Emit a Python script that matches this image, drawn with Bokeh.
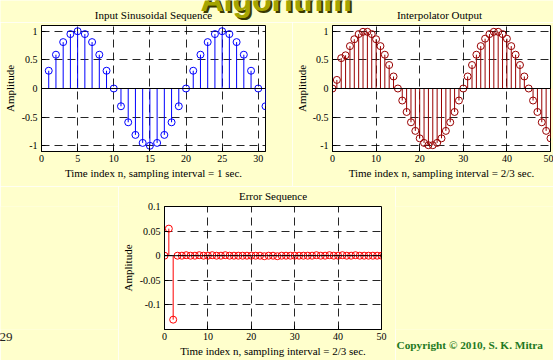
from bokeh.plotting import figure
from bokeh.layouts import row, column
from bokeh.models import FixedTicker, Span, LinearAxis
from bokeh.core.properties import value
from bokeh.embed import file_html
from bokeh.resources import INLINE

BG = "#FFFFCC"
SERIF = "Liberation Serif"

# ---------------- data ----------------
n_input = list(range(1, 32))
x_input = [0.31, 0.59, 0.81, 0.95, 1.0, 0.95, 0.81, 0.59, 0.31, 0.0,
           -0.31, -0.59, -0.81, -0.95, -1.0, -0.95, -0.81, -0.59, -0.31, 0.0,
           0.31, 0.59, 0.81, 0.95, 1.0, 0.95, 0.81, 0.59, 0.31, 0.0, -0.31]

n_interp = list(range(0, 51))
y_interp = [0.0, 0.15, 0.53, 0.58, 0.74, 0.86, 0.95, 0.99, 0.99, 0.95,
            0.86, 0.74, 0.59, 0.41, 0.21, 0.0, -0.21, -0.41, -0.59, -0.74,
            -0.87, -0.95, -0.99, -0.99, -0.95, -0.87, -0.74, -0.59, -0.41, -0.21,
            0.0, 0.21, 0.41, 0.59, 0.74, 0.87, 0.95, 0.99, 0.99, 0.95,
            0.87, 0.74, 0.59, 0.41, 0.21, 0.0, -0.21, -0.41, -0.59, -0.74, -0.87]

n_error = list(range(0, 51))
e_error = [0.0, 0.055, -0.13, 0.0, 0.0, 0.001, 0.0, 0.0, 0.001, 0.0,
           0.0, 0.001, 0.0, 0.0, 0.001, 0.0, 0.0, 0.0, 0.0, 0.0,
           0.0, 0.0, 0.0, -0.001, 0.0, 0.0, -0.001, 0.0, 0.0, 0.0,
           0.0, 0.0, 0.0, 0.0, 0.0, 0.001, 0.0, 0.0, 0.001, 0.0,
           0.0, 0.001, 0.0, 0.0, 0.001, 0.0, 0.0, 0.0, 0.0, 0.0, 0.0]

amp_ticks = [-1, -0.5, 0, 0.5, 1]
amp_labels = ["-1", "-0.5", "0", "0.5", "1"]
err_ticks = [-0.1, -0.05, 0, 0.05, 0.1]
err_labels = ["-0.1", "-0.05", "0", "0.05", "0.1"]
input_xticks = [0, 5, 10, 15, 20, 25, 30]
output_xticks = [0, 10, 20, 30, 40, 50]

titles = ["Input Sinusoidal Sequence", "Interpolator Output", "Error Sequence"]
xlabels = ["Time index n, sampling interval = 1 sec.",
           "Time index n, sampling interval = 2/3 sec.",
           "Time index n, sampling interval = 2/3 sec."]
ylabel = "Amplitude"
slide_title = "Algorithm"
copyright_text = "Copyright \u00a9 2010, S. K. Mitra"
page_number = "29"


def stem_plot(xlabel, n, vals, color, xr, yr, xticks, yticks, ylabels,
              width, height, bl, br, bt, bb, ylab_standoff):
    p = figure(width=width, height=height, x_range=xr, y_range=yr,
               toolbar_location=None, output_backend="svg",
               min_border_left=bl, min_border_right=br,
               min_border_top=bt, min_border_bottom=bb)
    p.title.visible = False
    p.background_fill_color = "white"
    p.border_fill_color = BG
    p.outline_line_color = "black"
    p.outline_line_width = 1

    p.xaxis.ticker = FixedTicker(ticks=xticks)
    p.yaxis.ticker = FixedTicker(ticks=yticks)
    p.yaxis.major_label_overrides = {t: l for t, l in zip(yticks, ylabels)}
    p.xaxis.major_label_overrides = {t: str(t) for t in xticks}
    p.xaxis.axis_label = xlabel
    p.yaxis.axis_label = ylabel
    for ax in (p.xaxis[0], p.yaxis[0]):
        ax.major_tick_in = 4
        ax.major_tick_out = 0
        ax.minor_tick_line_color = None
        ax.axis_line_color = "black"
        ax.major_tick_line_color = "black"
        ax.major_label_text_font = SERIF
        ax.major_label_text_font_size = "10px"
        ax.major_label_text_color = "black"
        ax.axis_label_text_font = SERIF
        ax.axis_label_text_font_size = "11px"
        ax.axis_label_text_font_style = "normal"
        ax.axis_label_text_color = "black"
    p.xaxis.major_label_standoff = 3
    p.xaxis.axis_label_standoff = 2
    p.yaxis.major_label_standoff = 4
    p.yaxis.axis_label_standoff = ylab_standoff

    p.grid.grid_line_color = "black"
    p.grid.grid_line_dash = "8 5"
    p.grid.grid_line_alpha = 0.85
    p.grid.grid_line_width = 1

    p.segment(x0=n, y0=[0] * len(n), x1=n, y1=vals, line_color=color, line_width=1)
    p.add_layout(Span(location=0, dimension="width", line_color="black", line_width=1))
    p.scatter(n, vals, marker="circle", size=7, fill_color=None,
              line_color=color, line_width=1)
    return p


# strip at the top: slide title (cut by the page edge) and the two upper titles
strip = figure(width=553, height=22, x_range=(0, 553), y_range=(0, 22),
               toolbar_location=None, output_backend="svg",
               x_axis_location=None, y_axis_location=None, min_border=0)
strip.title.visible = False
strip.grid.visible = False
strip.outline_line_color = None
strip.background_fill_color = BG
strip.border_fill_color = BG
strip.text(x=[202], y=[21], text=[slide_title], text_font=value("Liberation Sans"),
           text_font_style="bold", text_font_size="32px", text_color="#3A3A00",
           text_baseline="middle")
strip.text(x=[200], y=[23], text=[slide_title], text_font=value("Liberation Sans"),
           text_font_style="bold", text_font_size="32px", text_color="#A5A500",
           text_baseline="middle")
strip.text(x=[153, 439], y=[8, 8], text=titles[:2], text_font=value(SERIF),
           text_font_size="11px", text_color="black",
           text_align="center", text_baseline="middle")

# top row (height 164)
p1 = stem_plot(xlabels[0], n_input, x_input, "#0000FF",
               (0, 31), (-1.1, 1.1), input_xticks, amp_ticks, amp_labels,
               292, 164, 41, 27, 3, 35, 3)
p2 = stem_plot(xlabels[1], n_interp, y_interp, "#990000",
               (0, 50), (-1.1, 1.1), output_xticks, amp_ticks, amp_labels,
               261, 164, 36, 3, 3, 35, 2)

# bottom row (height 174); its title is carried by a tick-less axis above
p3 = stem_plot(xlabels[2], n_error, e_error, "#FF0000",
               (0, 50), (-0.15, 0.1), output_xticks, err_ticks, err_labels,
               277, 174, 41, 14, 19, 31, 3)
title_axis = LinearAxis(ticker=FixedTicker(ticks=[]), axis_label=titles[2],
                        axis_line_color=None, major_tick_line_color=None,
                        minor_tick_line_color=None,
                        axis_label_text_font=SERIF, axis_label_text_font_size="11px",
                        axis_label_text_font_style="normal",
                        axis_label_text_color="black", axis_label_standoff=5)
p3.add_layout(title_axis, "above")


def side_panel(width, text, size, style, color, offset, standoff):
    b = figure(width=width, height=174, toolbar_location=None, output_backend="svg",
               x_axis_location=None, y_axis_location=None,
               title=text, title_location="below",
               min_border=0, min_border_top=19, min_border_bottom=31)
    b.title.text_font = SERIF
    b.title.text_font_size = size
    b.title.text_font_style = style
    b.title.text_color = color
    b.title.align = "left"
    b.title.offset = offset
    b.title.standoff = standoff
    b.grid.visible = False
    b.outline_line_color = None
    b.background_fill_color = BG
    b.border_fill_color = BG
    return b


pa = side_panel(118, page_number, "13px", "normal", "#222222", -1, 2)
pb = side_panel(158, copyright_text, "11.3px", "bold", "#1F7A1F", 1, 15)

layout = column(strip, row(p1, p2), row(pa, p3, pb))

open("out.html", "w").write(file_html(layout, INLINE))
